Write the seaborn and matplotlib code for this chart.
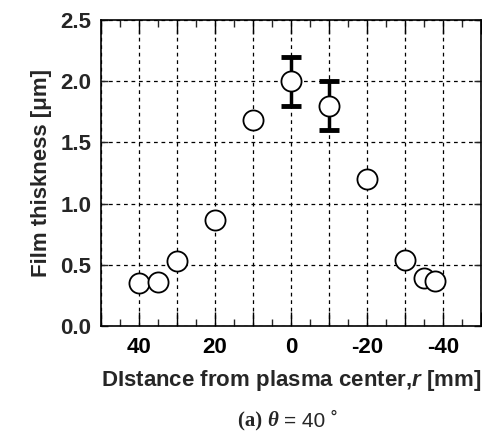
import numpy as np
import pandas as pd
import matplotlib
matplotlib.use("Agg")
import matplotlib.pyplot as plt
import seaborn as sns
from matplotlib.ticker import MultipleLocator, FuncFormatter

# data
distance = [40, 35, 30, 20, 10, 0, -10, -20, -30, -35, -38]
thickness = [0.35, 0.36, 0.53, 0.87, 1.68, 2.00, 1.80, 1.20, 0.54, 0.39, 0.37]
err_x = [0, -10]
err_y = [2.00, 1.80]
err_size = [0.20, 0.20]

sns.set_style("ticks")
plt.rcParams['font.family'] = ['Liberation Sans', 'DejaVu Sans']
plt.rcParams['mathtext.fontset'] = 'custom'
plt.rcParams['mathtext.it'] = 'Liberation Sans:italic:bold'
plt.rcParams['mathtext.rm'] = 'Liberation Sans:bold'

df = pd.DataFrame({"r": distance, "t": thickness})

fig = plt.figure(figsize=(4.82, 4.41), dpi=100)
ax = fig.add_axes([0.2095, 0.2608, 0.7885, 0.6938])

ax.errorbar(err_x, err_y, yerr=err_size, fmt='none', ecolor='black',
            elinewidth=2.5, capsize=7, capthick=3.5, zorder=3)
sns.scatterplot(data=df, x="r", y="t", ax=ax, marker='o', s=210,
                facecolor='white', edgecolor='black', linewidth=1.3, zorder=4)

ax.set_xlim(50, -50)
ax.set_ylim(0, 2.5)
ax.xaxis.set_major_locator(MultipleLocator(10))
ax.xaxis.set_minor_locator(MultipleLocator(5))
ax.yaxis.set_major_locator(MultipleLocator(0.5))
ax.xaxis.set_major_formatter(FuncFormatter(
    lambda v, p: f"{int(round(v))}" if int(round(v)) % 20 == 0 and abs(v) < 45 else ""))
ax.yaxis.set_major_formatter(FuncFormatter(lambda v, p: f"{v:.1f}"))

ax.grid(True, which='major', color='black', linestyle=(0, (3, 3)), linewidth=0.9)
ax.tick_params(axis='x', which='major', direction='in', length=10, width=1,
               top=True, labelsize=16, pad=8, colors='black')
ax.tick_params(axis='x', which='minor', direction='in', length=5, width=1, top=True)
ax.tick_params(axis='y', which='major', direction='in', length=5, width=1,
               right=True, labelsize=16, pad=7)
for lab in ax.get_xticklabels() + ax.get_yticklabels():
    lab.set_fontweight('bold')
for sp in ax.spines.values():
    sp.set_color('black')
    sp.set_linewidth(1.2)

ax.set_xlabel(r"DIstance from plasma center,$\it{r}$ [mm]", fontsize=16,
              fontweight='bold', labelpad=7)
ax.set_ylabel("Film thiskness [\u03bcm]", fontsize=16, fontweight='bold', labelpad=6)

cap_y = 0.045
fig.text(0.555, cap_y, "(a) ", family=['Liberation Serif'], fontsize=15,
         fontweight='bold', ha='right', va='center')
fig.text(0.555, cap_y, "\u03b8", family=['Liberation Serif', 'DejaVu Serif'],
         fontsize=15, ha='left', va='center', style='italic', fontweight='bold')
fig.text(0.59, cap_y, "= 40 \u02da", family=['Liberation Sans', 'DejaVu Sans'],
         fontsize=15, ha='left', va='center')

fig.savefig("out.png", dpi=100)
